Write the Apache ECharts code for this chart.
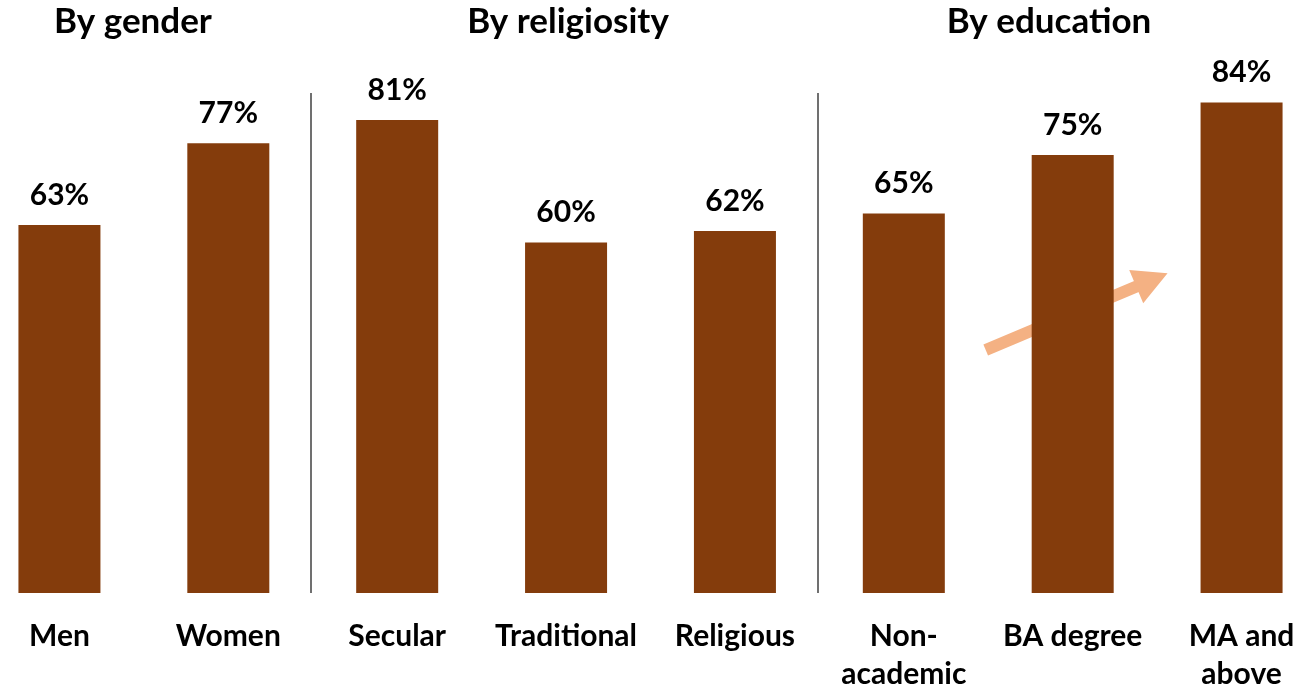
<!DOCTYPE html>
<html>
<head>
<meta charset="utf-8">
<script src="https://cdn.jsdelivr.net/npm/echarts@6/dist/echarts.min.js"></script>
<style>html,body{margin:0;padding:0;background:#fff}#c{width:1314px;height:689px}</style>
</head>
<body>
<div id="c"></div>
<script>
var categories = ['Men', 'Women', 'Secular', 'Traditional', 'Religious', 'Non-\nacademic', 'BA degree', 'MA and\nabove'];
var values = [63, 77, 81, 60, 62, 65, 75, 84];
var groupTitles = ['By gender', 'By religiosity', 'By education'];
var groupTitleX = [133, 568, 1049];
var separatorsAt = [1.49, 4.49];
var separatorTop = 85.6;
var arrowFrom = [5.485, 41.6];
var arrowTo = [6.469, 53.6];

var FONT = 'Lato, "Liberation Sans", sans-serif';
var chart = echarts.init(document.getElementById('c'), null, {renderer: 'canvas'});

var titles = groupTitles.map(function (t, i) {
  return {
    text: t, left: groupTitleX[i], top: 4, textAlign: 'center', padding: 0,
    textStyle: {fontFamily: FONT, fontWeight: 'bold', fontSize: 35, color: '#000'}
  };
});

var sepLines = separatorsAt.map(function (x) {
  return [{coord: [x, 0], lineStyle: {color: '#404040', width: 1.5, type: 'solid'}, symbol: 'none'},
          {coord: [x, separatorTop]}];
});

option = {
  animation: false,
  title: titles,
  grid: {left: -25, right: -12, top: 9, bottom: 96, containLabel: false, outerBoundsMode: 'none'},
  xAxis: [{
    type: 'category', data: categories,
    axisLine: {show: false}, axisTick: {show: false}, splitLine: {show: false},
    axisLabel: {interval: 0, margin: 24, fontFamily: FONT, fontWeight: 'bold', fontSize: 30, color: '#000', lineHeight: 38, hideOverlap: false}
  }, {
    type: 'value', min: -0.5, max: 7.5, show: false
  }],
  yAxis: {type: 'value', min: 0, max: 100, show: false, splitLine: {show: false}},
  series: [{
    type: 'bar', data: values, barWidth: 82, z: 5,
    itemStyle: {color: '#843C0C'},
    label: {show: true, position: 'top', distance: 15, formatter: '{c}%',
      fontFamily: FONT, fontWeight: 'bold', fontSize: 30, color: '#000'}
  }, {
    type: 'line', xAxisIndex: 1, data: [], z: 1,
    markLine: {
      silent: true, symbol: 'none', label: {show: false}, animation: false,
      data: sepLines.concat([[
        {coord: arrowFrom, symbol: 'none', lineStyle: {color: '#F4B183', width: 12, type: 'solid'}},
        {coord: arrowTo, symbol: 'triangle', symbolSize: [36, 34]}
      ]])
    }
  }]
};
chart.setOption(option);
</script>
</body>
</html>
